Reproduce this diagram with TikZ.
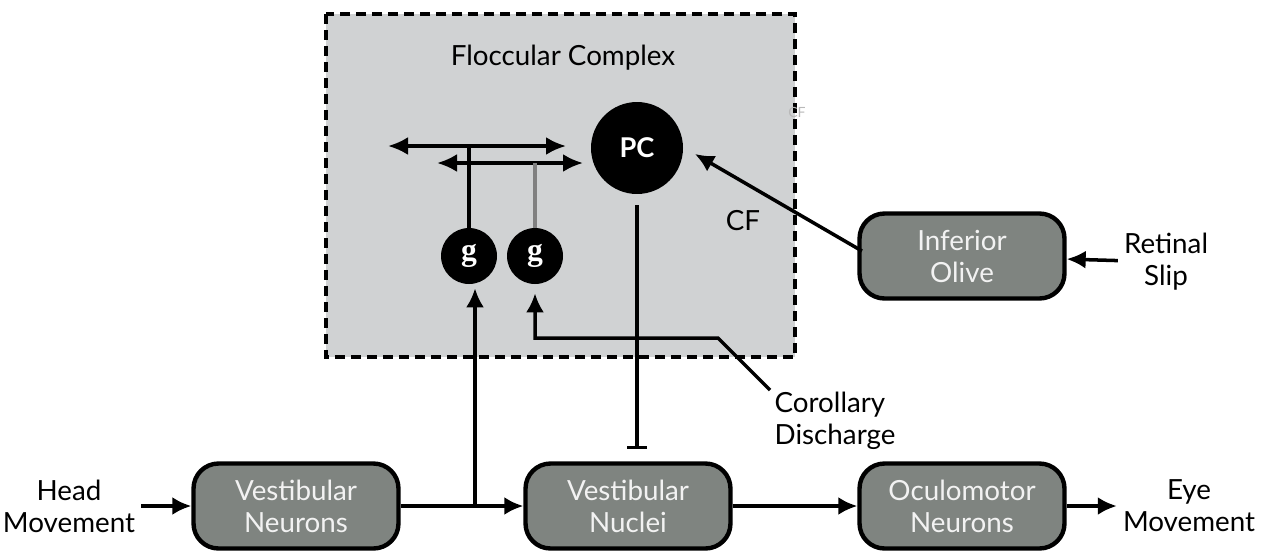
\documentclass[tikz,border=0pt]{standalone}
\usepackage{fontspec}
\setmainfont{Lato}
\newfontfamily\gfont{Liberation Serif}
\usetikzlibrary{arrows.meta, positioning}
\definecolor{boxgray}{RGB}{127,132,128}
\definecolor{flocgray}{RGB}{208,210,211}
\definecolor{boxtext}{RGB}{242,242,242}
\tikzset{
every node/.style={font=\fontsize{15.8}{18.2}\selectfont}, % default text size
block/.style={draw, line width=2.5pt, rounded corners=0.5cm, fill=boxgray, text=boxtext, minimum width=4.1cm, minimum height=1.7cm, align=center}, % grey boxes
cell/.style={circle, fill=black, text=white, inner sep=0pt}, % the neurons
txt/.style={align=center, text=black}, % plain texts
arr/.style={line width=2pt, -{Latex[length=0.38cm, width=0.36cm]}}, % excitatory connection
twoway/.style={line width=2pt, {Latex[length=0.4cm, width=0.36cm]}-{Latex[length=0.4cm, width=0.36cm]}}, % parallel fibres
stopper/.style={line width=2pt, -{Bar[width=0.4cm]}}, % inhibitory connection
}

\begin{document}
\begin{tikzpicture}[x=0.02cm, y=-0.02cm]
\useasboundingbox (0, 0) rectangle (1263, 552);

% floccular complex
\draw[fill=flocgray, line width=2.4pt, dash pattern=on 0.2cm off 0.12cm] (326, 14) rectangle (795, 357);
\node[txt] at (563, 58) (floc) {Floccular Complex};
\node[txt, text=gray!55, font=\fontsize{8}{9}\selectfont] at (797, 112) (cfsmall) {CF};

\coordinate (pf1l) at (388, 146);
\coordinate (pf1r) at (566, 146);
\coordinate (pf2l) at (437, 163);
\coordinate (pf2r) at (583, 163);

\node[cell, minimum size=1.84cm, font=\bfseries\fontsize{15.5}{16}\selectfont] at (637, 148) (pc) {PC};
\node[cell, minimum size=1.12cm, font=\gfont\bfseries\fontsize{18}{18}\selectfont] at (469, 256) (g1) {g};
\node[cell, minimum size=1.12cm, font=\gfont\bfseries\fontsize{18}{18}\selectfont] at (535, 256) (g2) {g};

\draw[twoway] (pf1l) -- (pf1r);
\draw[twoway] (pf2l) -- (pf2r);
\draw[line width=2pt] (g1.north) -- (g1.north |- pf1l);
\draw[line width=2pt, gray] (g2.north) -- (g2.north |- pf2l);

% main pathway
\node[block] at (296, 506) (vn) {Vestibular\\Neurons};
\node[block] at (628, 506) (vnuc) {Vestibular\\Nuclei};
\node[block] at (962, 506) (om) {Oculomotor\\Neurons};
\node[block] at (962, 256) (io) {Inferior\\Olive};

\node[txt] at (69, 506) (head) {Head\\Movement};
\node[txt] at (1189, 506) (eye) {Eye\\Movement};
\node[txt] at (1166, 262) (slip) {Retinal\\Slip};
\node[txt, align=left] at (835, 421) (cd) {Corollary\\Discharge};
\node[txt] at (743, 221) (cf) {CF};

\draw[arr] (head) -- (vn);
\draw[arr] (vn) -- (vnuc);
\draw[arr] (vnuc) -- (om);
\draw[arr] (om) -- (eye);
\draw[arr] (slip) -- (io);

\coordinate (split) at (475, 506);
\draw[arr, shorten >=0.08cm] (split) -- (split |- g1.south);

\coordinate (cdstart) at (770, 390);
\coordinate (cdbend) at (718, 338);
\draw[arr, shorten >=0.18cm] (cdstart) -- (cdbend) -- (cdbend -| g2.south) -- (g2.south);

\draw[stopper, shorten <=0.22cm, shorten >=0.24cm] (pc.south) -- (pc.south |- vnuc.north);

\coordinate (cfstart) at (862, 251);
\coordinate (cfend) at (695, 154);
\draw[arr] (cfstart) -- (cfend);

\end{tikzpicture}
\end{document}
